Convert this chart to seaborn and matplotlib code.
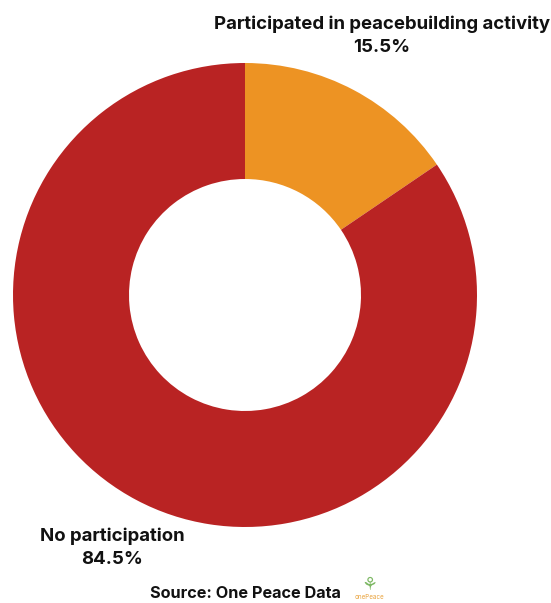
import matplotlib
matplotlib.use("Agg")
import matplotlib.pyplot as plt
import seaborn as sns

categories = ["Participated in peacebuilding activity", "No participation"]
shares = [15.5, 84.5]
colors = ["#ED9323", "#B92323"]

sns.set_theme(style="white")
plt.rcParams["font.family"] = ["Inter", "DejaVu Sans"]

fig = plt.figure(figsize=(5.51, 6.03), dpi=100)
fig.patch.set_facecolor("white")
ax = fig.add_axes([13 / 551, 76 / 603, 464 / 551, 464 / 603])
ax.pie(shares, colors=sns.color_palette(colors), startangle=90, counterclock=False,
       radius=1.0, wedgeprops=dict(width=0.5, edgecolor="none"))
ax.set_xlim(-1, 1)
ax.set_ylim(-1, 1)
ax.set_aspect("equal")
ax.axis("off")

label_style = dict(fontsize=13.4, fontweight="bold", color="#111111", ha="center", va="center")
fig.text(382 / 551, 1 - 24 / 603, categories[0], **label_style)
fig.text(382 / 551, 1 - 47 / 603, f"{shares[0]}%", **label_style)
fig.text(112 / 551, 1 - 536 / 603, categories[1], **label_style)
fig.text(112 / 551, 1 - 560 / 603, f"{shares[1]}%", **label_style)

fig.text(245 / 551, 1 - 594 / 603, "Source: One Peace Data", fontsize=11.7, fontweight="bold",
         color="#111111", ha="center", va="center")
# small One Peace mark
fig.text(369 / 551, 1 - 585 / 603, "\u2698", fontsize=13, color="#7DB864", ha="center", va="center",
         family="DejaVu Sans")
fig.text(369 / 551, 1 - 597 / 603, "onePeace", fontsize=4.5, color="#E9A23B", ha="center", va="center")

fig.savefig("out.png", dpi=100, facecolor="white")
